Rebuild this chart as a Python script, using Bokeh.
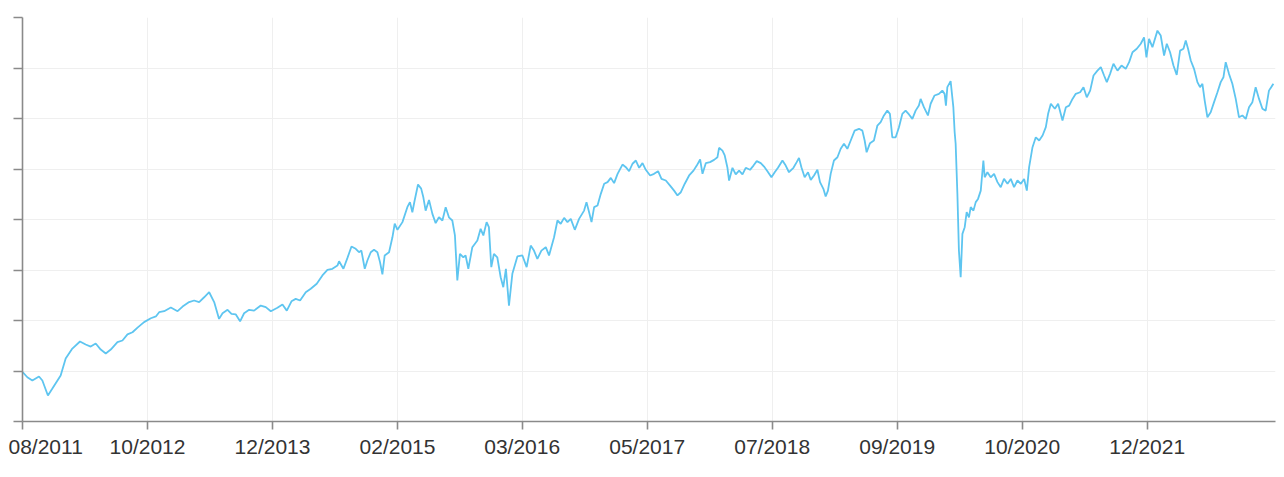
import numpy as np
import pandas as pd
from bokeh.plotting import figure
from bokeh.layouts import row
from bokeh.models import FixedTicker, DatetimeTickFormatter, CustomJSTickFormatter, Range1d, Spacer
from bokeh.embed import file_html
from bokeh.resources import INLINE

# Dates as decimal years, values as an index level
years = [
    2011.648, 2011.691, 2011.737, 2011.798, 2011.829, 2011.880, 2011.921, 2011.997, 2012.043, 2012.104,
    2012.174, 2012.226, 2012.272, 2012.318, 2012.364, 2012.410, 2012.456, 2012.517, 2012.563, 2012.609,
    2012.655, 2012.701, 2012.761, 2012.823, 2012.869, 2012.899, 2012.945, 2013.006, 2013.068, 2013.114,
    2013.174, 2013.220, 2013.266, 2013.312, 2013.358, 2013.404, 2013.449, 2013.481, 2013.527, 2013.563,
    2013.603, 2013.642, 2013.679, 2013.725, 2013.771, 2013.832, 2013.878, 2013.924, 2013.985, 2014.031,
    2014.071, 2014.114, 2014.153, 2014.193, 2014.245, 2014.291, 2014.346, 2014.398, 2014.444, 2014.490,
    2014.536, 2014.551, 2014.591, 2014.628, 2014.665, 2014.704, 2014.734, 2014.756, 2014.787, 2014.811,
    2014.842, 2014.872, 2014.903, 2014.927, 2014.949, 2014.970, 2015.010, 2015.041, 2015.062, 2015.087,
    2015.133, 2015.178, 2015.202, 2015.224, 2015.245, 2015.276, 2015.305, 2015.325, 2015.346, 2015.377,
    2015.408, 2015.438, 2015.468, 2015.500, 2015.530, 2015.560, 2015.591, 2015.615, 2015.637, 2015.661,
    2015.692, 2015.713, 2015.738, 2015.775, 2015.821, 2015.851, 2015.876, 2015.906, 2015.927, 2015.949,
    2015.973, 2016.004, 2016.035, 2016.059, 2016.083, 2016.111, 2016.142, 2016.188, 2016.234, 2016.273,
    2016.310, 2016.340, 2016.371, 2016.408, 2016.448, 2016.478, 2016.524, 2016.555, 2016.585, 2016.616,
    2016.647, 2016.677, 2016.714, 2016.753, 2016.799, 2016.821, 2016.845, 2016.867, 2016.891, 2016.922,
    2016.952, 2016.983, 2017.014, 2017.044, 2017.074, 2017.106, 2017.151, 2017.182, 2017.212, 2017.243,
    2017.274, 2017.304, 2017.335, 2017.365, 2017.405, 2017.441, 2017.478, 2017.509, 2017.549, 2017.588,
    2017.625, 2017.656, 2017.687, 2017.723, 2017.763, 2017.803, 2017.833, 2017.864, 2017.886, 2017.916,
    2017.955, 2017.992, 2018.023, 2018.038, 2018.069, 2018.090, 2018.115, 2018.130, 2018.161, 2018.191,
    2018.222, 2018.253, 2018.283, 2018.322, 2018.354, 2018.384, 2018.421, 2018.451, 2018.482, 2018.519,
    2018.549, 2018.579, 2018.620, 2018.650, 2018.680, 2018.721, 2018.751, 2018.772, 2018.794, 2018.824,
    2018.855, 2018.880, 2018.910, 2018.941, 2018.965, 2018.996, 2019.017, 2019.038, 2019.063, 2019.093,
    2019.125, 2019.155, 2019.185, 2019.216, 2019.247, 2019.283, 2019.323, 2019.354, 2019.375, 2019.393,
    2019.424, 2019.460, 2019.492, 2019.522, 2019.552, 2019.583, 2019.607, 2019.629, 2019.660, 2019.690,
    2019.721, 2019.751, 2019.782, 2019.813, 2019.843, 2019.873, 2019.889, 2019.919, 2019.956, 2019.981,
    2020.017, 2020.057, 2020.088, 2020.109, 2020.121, 2020.134, 2020.164, 2020.189, 2020.201, 2020.210,
    2020.226, 2020.240, 2020.256, 2020.272, 2020.293, 2020.311, 2020.332, 2020.348, 2020.373, 2020.394,
    2020.415, 2020.440, 2020.464, 2020.476, 2020.501, 2020.531, 2020.562, 2020.593, 2020.623, 2020.653,
    2020.685, 2020.715, 2020.745, 2020.776, 2020.807, 2020.837, 2020.862, 2020.883, 2020.914, 2020.944,
    2020.975, 2021.006, 2021.036, 2021.057, 2021.082, 2021.119, 2021.149, 2021.189, 2021.220, 2021.250,
    2021.281, 2021.311, 2021.351, 2021.382, 2021.412, 2021.443, 2021.474, 2021.510, 2021.541, 2021.571,
    2021.596, 2021.626, 2021.657, 2021.694, 2021.731, 2021.770, 2021.801, 2021.832, 2021.871, 2021.908,
    2021.938, 2021.960, 2021.984, 2022.015, 2022.061, 2022.091, 2022.122, 2022.147, 2022.177, 2022.208,
    2022.238, 2022.269, 2022.300, 2022.321, 2022.342, 2022.367, 2022.397, 2022.428, 2022.452, 2022.474,
    2022.495, 2022.520, 2022.550, 2022.581, 2022.612, 2022.642, 2022.667, 2022.688, 2022.718, 2022.749,
    2022.780, 2022.810, 2022.841, 2022.872, 2022.902, 2022.933, 2022.963, 2022.994, 2023.025, 2023.055,
    2023.085, 2023.126,
]

values = [
    99.4, 96.9, 95.3, 97.3, 95.3, 87.9, 91.3, 97.8, 106.2, 111.1,
    114.6, 113.1, 112.1, 113.6, 110.6, 108.7, 110.6, 114.3, 115.1, 118.1,
    119.2, 121.5, 124.2, 126.1, 127.0, 129.1, 129.6, 131.4, 129.6, 131.9,
    134.1, 134.9, 134.1, 136.5, 139.0, 134.1, 125.8, 128.6, 130.3, 128.3,
    128.0, 124.6, 128.6, 130.3, 129.9, 132.4, 131.6, 129.6, 131.3, 132.9,
    129.9, 134.5, 135.7, 134.9, 139.0, 140.7, 143.2, 147.3, 150.1, 150.6,
    152.2, 154.3, 150.6, 156.0, 161.6, 160.5, 158.8, 159.6, 150.6, 154.7,
    158.8, 160.0, 158.8, 153.9, 147.8, 157.2, 158.8, 166.2, 172.9, 169.9,
    173.7, 181.1, 183.6, 178.6, 184.4, 192.3, 190.3, 186.0, 179.4, 184.7,
    177.8, 173.2, 176.1, 174.5, 181.1, 176.1, 174.5, 167.1, 144.8, 158.0,
    156.3, 157.2, 150.6, 161.3, 164.6, 170.4, 167.1, 173.7, 171.2, 151.4,
    158.0, 156.3, 146.4, 141.5, 150.6, 132.4, 148.1, 156.7, 157.2, 151.4,
    162.1, 159.6, 155.5, 159.6, 161.3, 157.2, 166.2, 174.5, 172.9, 175.8,
    173.7, 175.3, 169.9, 175.3, 179.4, 183.6, 178.6, 173.7, 181.1, 181.9,
    187.7, 192.7, 193.5, 195.6, 193.0, 197.6, 202.2, 200.9, 198.9, 202.6,
    204.2, 200.6, 202.9, 199.6, 196.8, 197.6, 198.9, 195.1, 194.3, 191.8,
    189.3, 186.9, 188.5, 192.7, 196.8, 199.2, 201.7, 204.7, 197.6, 202.9,
    203.4, 204.5, 205.8, 210.5, 209.1, 206.7, 200.6, 194.3, 200.6, 197.3,
    199.2, 197.3, 200.6, 199.6, 201.7, 203.9, 202.9, 201.2, 198.9, 195.9,
    198.4, 200.6, 204.2, 201.7, 198.4, 200.6, 203.4, 205.5, 200.9, 195.9,
    198.4, 194.6, 196.8, 199.6, 193.5, 190.2, 186.4, 189.3, 197.6, 204.2,
    205.8, 210.0, 212.5, 210.0, 214.1, 219.0, 219.9, 219.0, 214.1, 208.3,
    212.8, 214.1, 221.5, 223.2, 226.5, 228.9, 227.3, 215.7, 215.7, 220.7,
    227.3, 228.9, 227.0, 224.8, 228.9, 231.4, 234.7, 230.6, 226.5, 232.3,
    236.4, 237.2, 238.8, 237.2, 231.4, 240.5, 243.5, 230.6, 218.2, 212.5,
    187.7, 159.6, 146.4, 167.9, 171.2, 178.6, 176.1, 181.1, 179.4, 183.6,
    185.2, 189.3, 204.2, 195.9, 198.4, 195.9, 197.6, 193.5, 191.0, 195.1,
    192.7, 195.1, 191.0, 194.3, 192.7, 195.1, 189.3, 200.9, 210.8, 215.7,
    214.1, 216.6, 220.7, 227.3, 232.3, 229.8, 232.3, 224.0, 230.6, 231.4,
    234.7, 237.2, 238.0, 240.5, 235.5, 238.8, 246.3, 248.7, 250.4, 246.3,
    243.0, 247.1, 252.1, 248.7, 251.2, 249.6, 252.9, 257.8, 259.5, 262.0,
    265.2, 255.3, 264.4, 260.3, 268.5, 266.1, 256.2, 262.0, 257.8, 251.2,
    246.6, 258.6, 259.5, 263.6, 259.5, 253.7, 249.6, 243.0, 240.5, 242.2,
    233.9, 225.6, 228.1, 233.1, 238.0, 243.0, 245.4, 252.9, 247.1, 242.2,
    234.7, 225.6, 226.5, 224.8, 230.6, 233.1, 240.5, 234.7, 229.8, 228.9,
    238.8, 242.2,
]

tick_dates = ["2011-08-25", "2012-10-17", "2013-12-10", "2015-02-02", "2016-03-26",
              "2017-05-19", "2018-07-12", "2019-09-04", "2020-10-27", "2021-12-20"]
y_ticks = [75, 100, 125, 150, 175, 200, 225, 250, 275]
x_end_date = "2023-02-23"

assert len(years) == len(values)


def year_to_dt(y):
    yr = int(np.floor(y))
    start = pd.Timestamp(year=yr, month=1, day=1)
    end = pd.Timestamp(year=yr + 1, month=1, day=1)
    return start + (end - start) * (y - yr)


dates = [year_to_dt(y) for y in years]
tick_ms = [pd.Timestamp(d).value / 1e6 for d in tick_dates]

p = figure(
    x_axis_type="datetime",
    frame_width=1253, frame_height=404,
    x_range=Range1d(pd.Timestamp(tick_dates[0]), pd.Timestamp(x_end_date)),
    y_range=Range1d(y_ticks[0], y_ticks[-1]),
    output_backend="svg", toolbar_location=None,
    min_border_left=14, min_border_right=1, min_border_top=17, min_border_bottom=40,
)
p.outline_line_color = None
p.background_fill_color = "white"
p.border_fill_color = "white"

p.line(dates, values, line_color="#5ec5f0", line_width=1.8)

LABEL_FONT = "Liberation Sans"
LABEL_SIZE = "21px"
LABEL_COLOR = "#333333"
AXIS_COLOR = "#8a8a8a"

# x axis
p.xaxis.ticker = FixedTicker(ticks=tick_ms)
fmt = "%m/%Y"
p.xaxis.formatter = DatetimeTickFormatter(
    microseconds=fmt, milliseconds=fmt, seconds=fmt, minsec=fmt, minutes=fmt,
    hourmin=fmt, hours=fmt, days=fmt, months=fmt, years=fmt)
p.xaxis.major_label_text_font = LABEL_FONT
p.xaxis.major_label_text_font_size = LABEL_SIZE
p.xaxis.major_label_text_color = LABEL_COLOR
p.xaxis.major_label_standoff = 5
p.xaxis.major_tick_out = 8
p.xaxis.major_tick_in = 0
p.xaxis.minor_tick_line_color = None
p.xaxis.axis_line_color = AXIS_COLOR
p.xaxis.axis_line_width = 1.6
p.xaxis.major_tick_line_color = AXIS_COLOR
p.xaxis.major_tick_line_width = 1.6

# y axis (labels not shown)
p.yaxis.ticker = FixedTicker(ticks=y_ticks)
p.yaxis.formatter = CustomJSTickFormatter(code="return ''")
p.yaxis.major_label_text_font_size = "0px"
p.yaxis.major_label_standoff = 0
p.yaxis.major_tick_out = 9
p.yaxis.major_tick_in = 0
p.yaxis.minor_tick_line_color = None
p.yaxis.axis_line_color = AXIS_COLOR
p.yaxis.axis_line_width = 1.6
p.yaxis.major_tick_line_color = AXIS_COLOR
p.yaxis.major_tick_line_width = 1.6

p.xgrid.grid_line_color = "#efefef"
p.ygrid.grid_line_color = "#efefef"
p.xgrid.grid_line_width = 1
p.ygrid.grid_line_width = 1

layout = row(Spacer(width=8), p)

open("out.html", "w").write(file_html(layout, INLINE))
